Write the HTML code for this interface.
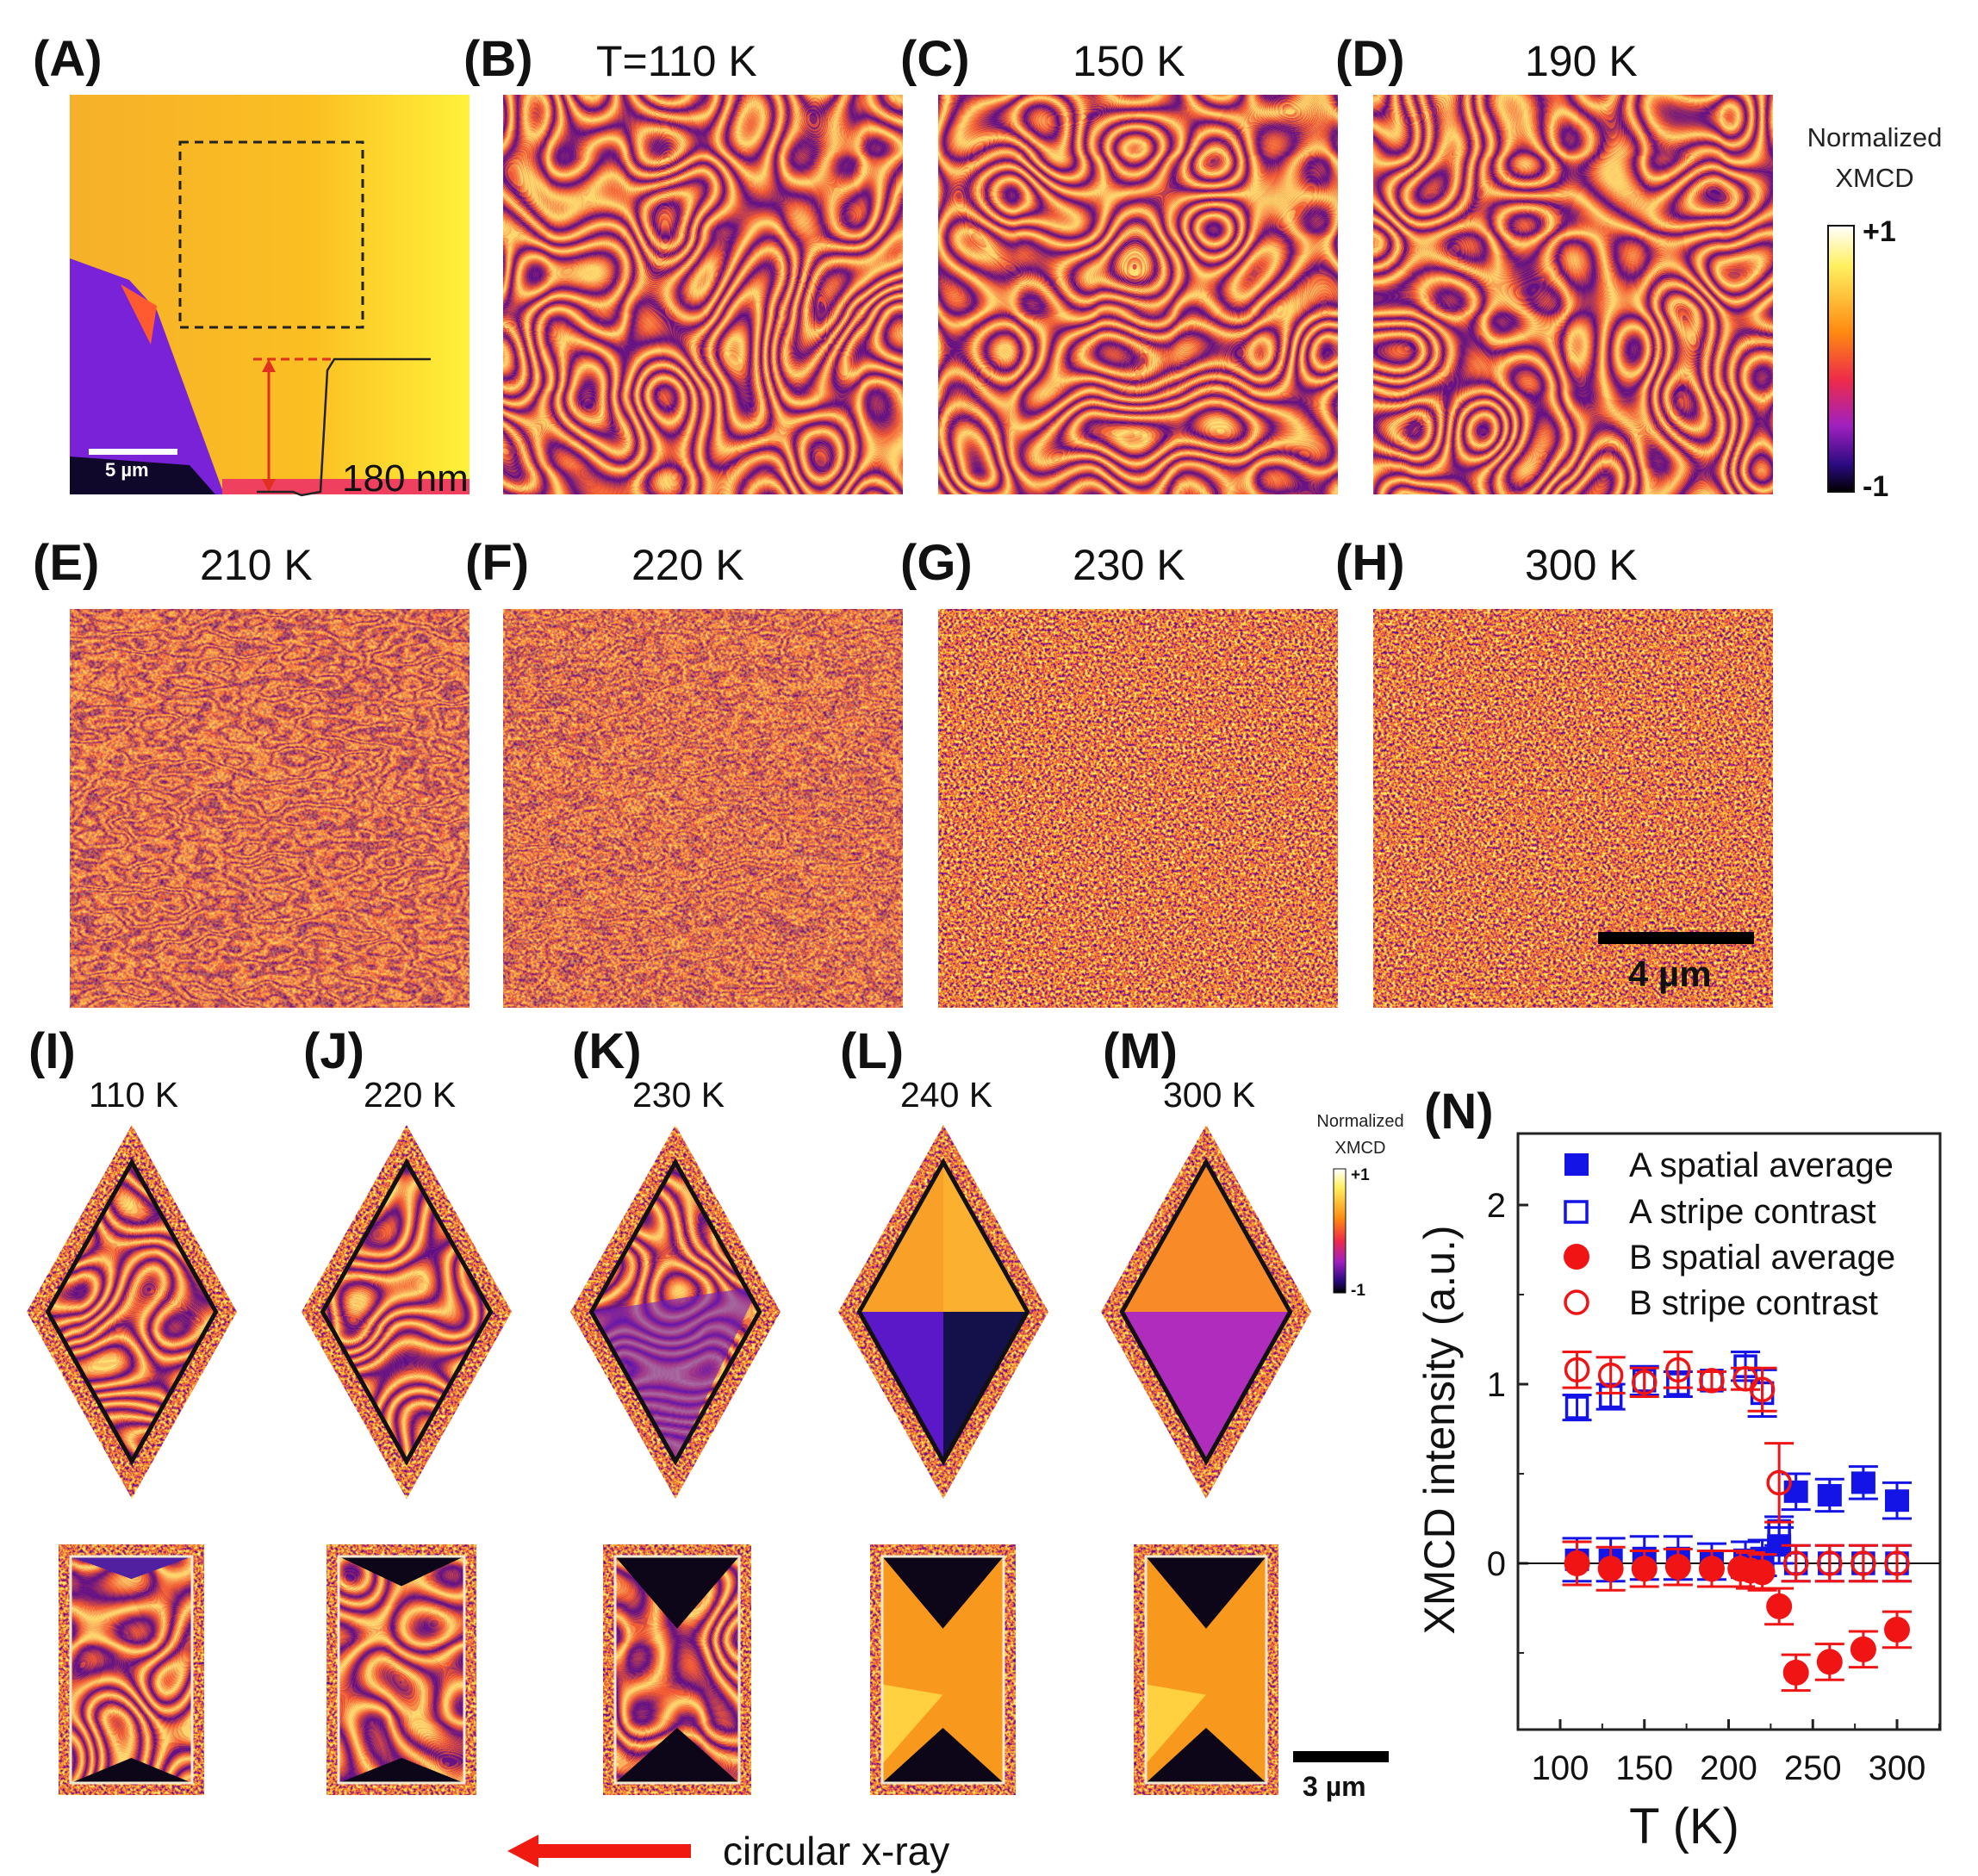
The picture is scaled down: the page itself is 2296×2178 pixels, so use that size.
<!DOCTYPE html>
<html><head><meta charset="utf-8">
<style>
html,body{margin:0;padding:0;background:#fff;}
svg{display:block;font-family:"Liberation Sans",sans-serif;}
.lab{font-weight:bold;font-size:58px;fill:#111;}
.ttl{font-size:50px;fill:#111;}
.ttl2{font-size:41px;fill:#111;}
</style></head>
<body>
<svg id="fig" width="2296" height="2178" viewBox="0 0 2296 2178" xmlns="http://www.w3.org/2000/svg">
<defs>
<filter id="stripes" x="0" y="0" width="1" height="1" color-interpolation-filters="sRGB">
 <feTurbulence type="fractalNoise" baseFrequency="0.011" numOctaves="1" seed="4"/>
 <feColorMatrix type="matrix" values="1 0 0 0 0 1 0 0 0 0 1 0 0 0 0 0 0 0 0 1"/>
 <feComponentTransfer>
  <feFuncR type="table" tableValues="0.9 0.35 0.95 1 0.95 0.35 0.95 1 0.95 0.35 0.95 1 0.95 0.35 0.95 1 0.95 0.35 0.95 1 0.95 0.35 0.95 1 0.95 0.35 0.95 1 0.95 0.35 0.95 1 0.95 0.35 0.95 1 0.95 0.35 0.95 1 0.95 0.35 0.95 1 0.95 0.35 0.95"/>
  <feFuncG type="table" tableValues="0.4 0.05 0.35 0.88 0.35 0.05 0.35 0.88 0.35 0.05 0.35 0.88 0.35 0.05 0.35 0.88 0.35 0.05 0.35 0.88 0.35 0.05 0.35 0.88 0.35 0.05 0.35 0.88 0.35 0.05 0.35 0.88 0.35 0.05 0.35 0.88 0.35 0.05 0.35 0.88 0.35 0.05 0.35 0.88 0.35 0.05 0.35"/>
  <feFuncB type="table" tableValues="0.2 0.55 0.2 0.45 0.2 0.55 0.2 0.45 0.2 0.55 0.2 0.45 0.2 0.55 0.2 0.45 0.2 0.55 0.2 0.45 0.2 0.55 0.2 0.45 0.2 0.55 0.2 0.45 0.2 0.55 0.2 0.45 0.2 0.55 0.2 0.45 0.2 0.55 0.2 0.45 0.2 0.55 0.2 0.45 0.2 0.55 0.2"/>
  <feFuncA type="table" tableValues="1 1"/>
 </feComponentTransfer>
</filter>
<filter id="noisy" x="0" y="0" width="1" height="1" color-interpolation-filters="sRGB">
 <feTurbulence type="fractalNoise" baseFrequency="0.3" numOctaves="2" seed="7"/>
 <feColorMatrix type="matrix" values="1 0 0 0 0 1 0 0 0 0 1 0 0 0 0 0 0 0 0 1"/>
 <feComponentTransfer>
  <feFuncR type="table" tableValues="0.3 0.3 0.3 0.45 0.8 0.95 1 1 1 1 1"/>
  <feFuncG type="table" tableValues="0.05 0.05 0.05 0.1 0.25 0.45 0.7 0.9 0.95 0.95 0.95"/>
  <feFuncB type="table" tableValues="0.5 0.5 0.5 0.55 0.4 0.2 0.2 0.4 0.6 0.6 0.6"/>
  <feFuncA type="table" tableValues="1 1"/>
 </feComponentTransfer>
</filter>
<filter id="mixed" x="0" y="0" width="1" height="1" color-interpolation-filters="sRGB">
 <feTurbulence type="fractalNoise" baseFrequency="0.014 0.03" numOctaves="3" seed="2"/>
 <feColorMatrix type="matrix" values="1 0 0 0 0 1 0 0 0 0 1 0 0 0 0 0 0 0 0 1"/>
 <feComponentTransfer>
  <feFuncR type="table" tableValues="0.9 0.4 0.95 1 0.95 0.4 0.95 1 0.95 0.4 0.95 1 0.95 0.4 0.95 1 0.95 0.4 0.95 1 0.95 0.4 0.95 1 0.95 0.4 0.95 1 0.95 0.4 0.95"/>
  <feFuncG type="table" tableValues="0.4 0.1 0.4 0.75 0.4 0.1 0.4 0.75 0.4 0.1 0.4 0.75 0.4 0.1 0.4 0.75 0.4 0.1 0.4 0.75 0.4 0.1 0.4 0.75 0.4 0.1 0.4 0.75 0.4 0.1 0.4"/>
  <feFuncB type="table" tableValues="0.25 0.5 0.25 0.35 0.25 0.5 0.25 0.35 0.25 0.5 0.25 0.35 0.25 0.5 0.25 0.35 0.25 0.5 0.25 0.35 0.25 0.5 0.25 0.35 0.25 0.5 0.25 0.35 0.25 0.5 0.25"/>
  <feFuncA type="table" tableValues="1 1"/>
 </feComponentTransfer>
</filter>
<linearGradient id="cbar" x1="0" y1="0" x2="0" y2="1">
 <stop offset="0" stop-color="#ffffff"/><stop offset="0.15" stop-color="#fff060"/>
 <stop offset="0.4" stop-color="#ff8a10"/><stop offset="0.58" stop-color="#ee2a4a"/>
 <stop offset="0.75" stop-color="#a020c0"/><stop offset="0.9" stop-color="#2a0a80"/>
 <stop offset="1" stop-color="#000000"/>
</linearGradient>
<linearGradient id="agrad" x1="0" y1="0" x2="1" y2="0">
 <stop offset="0" stop-color="#f6b02a"/><stop offset="0.6" stop-color="#fbbf22"/><stop offset="1" stop-color="#fff23a"/>
</linearGradient>
</defs>

<!-- Row 1 -->
<g>
 <text class="lab" x="38" y="88">(A)</text>
 <rect x="81" y="110" width="464" height="464" fill="url(#agrad)"/>
 <polygon points="81,300 150,325 182,360 260,574 81,574" fill="#7a22d8"/>
 <polygon points="140,330 182,355 175,400" fill="#ff5a30"/>
 <polygon points="81,530 220,540 250,574 81,574" fill="#10082a"/>
 <rect x="258" y="556" width="287" height="18" fill="#f04060"/>
 <rect x="209" y="165" width="212" height="215" fill="none" stroke="#222" stroke-width="3" stroke-dasharray="10,7"/>
 <line x1="294" y1="417" x2="386" y2="417" stroke="#e03020" stroke-width="3" stroke-dasharray="10,6"/>
 <line x1="312" y1="425" x2="312" y2="565" stroke="#e03020" stroke-width="3"/>
 <polygon points="312,417 304,432 320,432" fill="#e03020"/><polygon points="312,571 304,556 320,556" fill="#e03020"/>
 <polyline points="298,571 340,571 350,575 372,571 380,430 388,417 500,417" fill="none" stroke="#222" stroke-width="2.5"/>
 <text x="397" y="570" font-size="44" fill="#111">180 nm</text>
 <rect x="103" y="521" width="103" height="7" fill="#fff"/>
 <text x="122" y="553" font-size="22" font-weight="bold" fill="#fff">5 µm</text>
</g>
<g>
 <text class="lab" x="538" y="88">(B)</text><text class="ttl" x="692" y="88">T=110 K</text>
 <rect x="584" y="110" width="464" height="464" filter="url(#stripes)"/>
</g>
<g>
 <text class="lab" x="1045" y="88">(C)</text><text class="ttl" x="1245" y="88">150 K</text>
 <rect x="1089" y="110" width="464" height="464" filter="url(#stripes)"/>
</g>
<g>
 <text class="lab" x="1550" y="88">(D)</text><text class="ttl" x="1770" y="88">190 K</text>
 <rect x="1594" y="110" width="464" height="464" filter="url(#stripes)"/>
</g>
<g>
 <text x="2176" y="170" font-size="31" text-anchor="middle" fill="#222">Normalized</text>
 <text x="2176" y="217" font-size="31" text-anchor="middle" fill="#222">XMCD</text>
 <rect x="2122" y="262" width="30" height="309" fill="url(#cbar)" stroke="#111" stroke-width="2"/>
 <text x="2162" y="280" font-size="34" font-weight="bold" fill="#111">+1</text>
 <text x="2162" y="576" font-size="34" font-weight="bold" fill="#111">-1</text>
</g>

<!-- Row 2 -->
<g>
 <text class="lab" x="38" y="673">(E)</text><text class="ttl" x="232" y="673">210 K</text>
 <rect x="81" y="707" width="464" height="463" filter="url(#mixed)"/>
 <rect x="81" y="707" width="464" height="463" filter="url(#noisy)" opacity="0.4"/>
</g>
<g>
 <text class="lab" x="540" y="673">(F)</text><text class="ttl" x="733" y="673">220 K</text>
 <rect x="584" y="707" width="464" height="463" filter="url(#mixed)"/>
 <rect x="584" y="707" width="464" height="463" filter="url(#noisy)" opacity="0.55"/>
</g>
<g>
 <text class="lab" x="1045" y="673">(G)</text><text class="ttl" x="1245" y="673">230 K</text>
 <rect x="1089" y="707" width="464" height="463" filter="url(#noisy)"/>
</g>
<g>
 <text class="lab" x="1550" y="673">(H)</text><text class="ttl" x="1770" y="673">300 K</text>
 <rect x="1594" y="707" width="464" height="463" filter="url(#noisy)"/>
 <rect x="1855" y="1082" width="181" height="14" fill="#000"/>
 <text x="1890" y="1145" font-size="42" font-weight="bold" fill="#111">4 µm</text>
</g>

<!-- Row 3 -->
<g id="row3"></g>
<g>
 <text x="1579" y="1308" font-size="20" text-anchor="middle" fill="#222">Normalized</text>
 <text x="1579" y="1339" font-size="20" text-anchor="middle" fill="#222">XMCD</text>
 <rect x="1548" y="1357" width="14" height="144" fill="url(#cbar)" stroke="#111" stroke-width="1"/>
 <text x="1568" y="1370" font-size="19" font-weight="bold" fill="#111">+1</text>
 <text x="1568" y="1504" font-size="19" font-weight="bold" fill="#111">-1</text>
</g>
<g>
 <rect x="1501" y="2033" width="111" height="13" fill="#000"/>
 <text x="1512" y="2085" font-size="32" font-weight="bold" fill="#111">3 µm</text>
</g>
<g>
 <rect x="615" y="2141" width="187" height="16" fill="#f01a10"/>
 <polygon points="589,2149 625,2130 625,2168" fill="#f01a10"/>
 <text x="839" y="2165" font-size="46" fill="#111">circular x-ray</text>
</g>

<!-- Chart N -->
<g>
 <text class="lab" x="1653" y="1310">(N)</text>
 <rect x="1762" y="1316" width="490" height="692" fill="#fff" stroke="#222" stroke-width="3"/>
 <g id="axes"></g>
 <g id="marks"></g>
 <g font-size="40" fill="#111">
  <rect x="1816" y="1339" width="28" height="26" fill="#1414e6"/>
  <text x="1891" y="1366">A spatial average</text>
  <rect x="1817" y="1395" width="25" height="24" fill="none" stroke="#1414e6" stroke-width="3.5"/>
  <text x="1891" y="1420">A stripe contrast</text>
  <circle cx="1830" cy="1459" r="15" fill="#f01414"/>
  <text x="1891" y="1473">B spatial average</text>
  <circle cx="1830" cy="1512" r="13" fill="none" stroke="#f01414" stroke-width="3.5"/>
  <text x="1891" y="1526">B stripe contrast</text>
 </g>
 <text x="1955" y="2140" font-size="58" text-anchor="middle" fill="#111">T (K)</text>
 <text transform="translate(1688,1660) rotate(-90)" font-size="50" text-anchor="middle" fill="#111">XMCD intensity (a.u.)</text>
</g>
</svg>
<script>
// ---- chart data ----
const tempsAavg=[110,130,150,170,190,210,220,230,240,260,280,300];
const valsAavg=[0.02,0.02,0.03,0.03,0.01,0.02,0.03,0.1,0.4,0.38,0.45,0.35];
const errAavg=[0.12,0.12,0.12,0.12,0.1,0.1,0.1,0.1,0.1,0.09,0.09,0.1];
const tempsAstr=[110,130,150,170,190,210,220,230,240,260,280,300];
const valsAstr=[0.87,0.93,1.02,1.0,1.02,1.1,0.95,0.18,0,0,0,0];
const errAstr=[0.07,0.07,0.08,0.07,0.05,0.08,0.13,0.08,0.1,0.1,0.1,0.1];
const tempsBavg=[110,130,150,170,190,207,213,220,230,240,260,280,300];
const valsBavg=[0,-0.03,-0.03,-0.02,-0.03,-0.03,-0.04,-0.05,-0.24,-0.61,-0.55,-0.48,-0.37];
const errBavg=[0.12,0.12,0.1,0.1,0.1,0.1,0.1,0.1,0.1,0.1,0.1,0.1,0.1];
const tempsBstr=[110,130,150,170,190,210,220,230,240,260,280,300];
const valsBstr=[1.08,1.05,1.01,1.08,1.02,1.03,0.97,0.45,0,0,0,0];
const errBstr=[0.1,0.1,0.08,0.1,0.05,0.06,0.12,0.22,0.1,0.1,0.1,0.1];
const xTicks=[100,150,200,250,300];
const xMinor=[75,125,175,225,275,325];
const yTicks=[0,1,2];
const yMinor=[-0.5,0.5,1.5];

const NS='http://www.w3.org/2000/svg';
const X0=1762,X1=2252,Y0=1316,Y1=2008;
function xs(t){return 1811+(t-100)*1.955;}
function ys(v){return 1815-v*208;}
function mk(tag,attrs,parent){const e=document.createElementNS(NS,tag);for(const k in attrs)e.setAttribute(k,attrs[k]);parent.appendChild(e);return e;}

const axes=document.getElementById('axes');
xTicks.forEach(t=>{
  const l=mk('line',{x1:xs(t),x2:xs(t),y1:Y1,y2:Y1-12,stroke:'#222','stroke-width':3},axes);
  
  
  const tx=mk('text',{x:xs(t),y:Y1+58,'font-size':40,'text-anchor':'middle',fill:'#111'},axes);
  tx.textContent=t;
  
  
});
xMinor.forEach(t=>{
  const l=mk('line',{x1:xs(t),x2:xs(t),y1:Y1,y2:Y1-7,stroke:'#222','stroke-width':2},axes);
  
  
});
yTicks.forEach(v=>{
  const l=mk('line',{x1:X0,x2:X0+12,y1:ys(v),y2:ys(v),stroke:'#222','stroke-width':3},axes);
  
  
  const tx=mk('text',{x:X0-14,y:ys(v)+14,'font-size':40,'text-anchor':'end',fill:'#111'},axes);
  tx.textContent=v;
  
  
});
yMinor.forEach(v=>{
  const l=mk('line',{x1:X0,x2:X0+7,y1:ys(v),y2:ys(v),stroke:'#222','stroke-width':2},axes);
  
  
});
const zl=mk('line',{x1:X0,x2:X1,y1:ys(0),y2:ys(0),stroke:'#111','stroke-width':2},axes);



const marks=document.getElementById('marks');
function series(ts,vs,es,color,shape,filled,name){
  const g=mk('g',{},marks);
  
  
  ts.forEach((t,i)=>{
    const x=xs(t),y=ys(vs[i]),e=es[i]*208;
    const eb=mk('path',{d:`M${x},${y-e}V${y+e}M${x-17},${y-e}H${x+17}M${x-17},${y+e}H${x+17}`,stroke:color,'stroke-width':3,fill:'none'},g);
    
    
    let m;
    if(shape==='sq'){
      m=filled?mk('rect',{x:x-14,y:y-13,width:28,height:26,fill:color},g)
              :mk('rect',{x:x-12,y:y-12,width:24,height:24,fill:'none',stroke:color,'stroke-width':3.5},g);
    }else{
      m=filled?mk('circle',{cx:x,cy:y,r:15,fill:color},g)
              :mk('circle',{cx:x,cy:y,r:13,fill:'none',stroke:color,'stroke-width':3.5},g);
    }
    
    
  });
}
series(tempsAavg,valsAavg,errAavg,'#1414e6','sq',true,'series-a-spatial-average');
series(tempsAstr,valsAstr,errAstr,'#1414e6','sq',false,'series-a-stripe-contrast');
series(tempsBavg,valsBavg,errBavg,'#f01414','ci',true,'series-b-spatial-average');
series(tempsBstr,valsBstr,errBstr,'#f01414','ci',false,'series-b-stripe-contrast');

// ---- row 3 element images ----
const row3=document.getElementById('row3');
const labels=['(I)','(J)','(K)','(L)','(M)'];
const temps=['110 K','220 K','230 K','240 K','300 K'];
const cxs=[153,472,784,1095,1400];
const rects=[[68,237],[379,553],[700,872],[1010,1179],[1316,1484]];
cxs.forEach((cx,i)=>{
  const g=mk('g',{},row3);
  
  
  const lb=mk('text',{x:cx-120,y:1240,'class':'lab'},g); lb.textContent=labels[i];
  
  
  const tl=mk('text',{x:cx-50,y:1285,'class':'ttl2'},g); tl.textContent=temps[i];
  
  
  const top=1306,bot=1740,hw=122,cy=(top+bot)/2;
  const cp=mk('clipPath',{id:'dc'+i},g);
  mk('polygon',{points:`${cx},${top} ${cx+hw},${cy} ${cx},${bot} ${cx-hw},${cy}`},cp);
  const ci=mk('clipPath',{id:'di'+i},g);
  const f=0.8, it=cy-(cy-top)*f, ib=cy+(bot-cy)*f, ihw=hw*f;
  mk('polygon',{points:`${cx},${it} ${cx+ihw},${cy} ${cx},${ib} ${cx-ihw},${cy}`},ci);
  const dg=mk('g',{'clip-path':`url(#dc${i})`},g);
  
  
  mk('rect',{x:cx-hw,y:top,width:2*hw,height:bot-top,filter:'url(#noisy)'},dg);
  const ig=mk('g',{'clip-path':`url(#di${i})`},dg);
  if(i<3){
    mk('rect',{x:cx-hw,y:top,width:2*hw,height:bot-top,filter:'url(#stripes)'},ig);
    if(i===2) mk('polygon',{points:`${cx-ihw},${cy} ${cx+ihw},${cy-30} ${cx},${ib}`,fill:'#6a1cc0',opacity:0.6},ig);
  } else if(i===3){
    mk('rect',{x:cx-hw,y:top,width:2*hw,height:cy-top,fill:'#f8a028'},ig);
    mk('polygon',{points:`${cx},${it} ${cx+ihw},${cy} ${cx},${cy}`,fill:'#fbb030'},ig);
    mk('rect',{x:cx-hw,y:cy,width:hw,height:bot-cy,fill:'#5a18c8'},ig);
    mk('rect',{x:cx,y:cy,width:hw,height:bot-cy,fill:'#14104a'},ig);
  } else {
    mk('rect',{x:cx-hw,y:top,width:2*hw,height:cy-top,fill:'#f88a28'},ig);
    mk('rect',{x:cx-hw,y:cy,width:2*hw,height:bot-cy,fill:'#c030b8'},ig);
    mk('polygon',{points:`${cx-ihw},${cy} ${cx},${ib} ${cx+ihw},${cy}`,fill:'#a028c0',opacity:0.5},ig);
  }
  mk('polygon',{points:`${cx},${it} ${cx+ihw},${cy} ${cx},${ib} ${cx-ihw},${cy}`,fill:'none',stroke:'#111','stroke-width':5},dg);
  const [rx0,rx1]=rects[i], ry0=1793, ry1=2084, w=rx1-rx0, h=ry1-ry0;
  const rc=mk('clipPath',{id:'rc'+i},g);
  mk('rect',{x:rx0+14,y:ry0+14,width:w-28,height:h-28},rc);
  const rg=mk('g',{},g);
  
  
  mk('rect',{x:rx0,y:ry0,width:w,height:h,filter:'url(#noisy)'},rg);
  const rig=mk('g',{'clip-path':`url(#rc${i})`},rg);
  if(i<3){
    mk('rect',{x:rx0,y:ry0,width:w,height:h,filter:'url(#stripes)'},rig);
  } else {
    mk('rect',{x:rx0,y:ry0,width:w,height:h,fill:'#f8981c'},rig);
    mk('polygon',{points:`${rx0},${ry0+h*0.55} ${rx0+w*0.5},${ry0+h*0.6} ${rx0},${ry1-20}`,fill:'#ffd040'},rig);
  }
  const tri=i===0?0.2:(i===1?0.3:0.6);
  mk('polygon',{points:`${rx0+14},${ry0+14} ${rx1-14},${ry0+14} ${rx0+w/2},${ry0+14+h*0.28*tri+ (i>=2?h*0.12:10)}`,fill:i===0?'#5020a0':'#0c0618'},rig);
  mk('polygon',{points:`${rx0+14},${ry1-14} ${rx1-14},${ry1-14} ${rx0+w/2},${ry1-14-(i>=2?h*0.22:h*0.1)}`,fill:'#0c0618'},rig);
  mk('rect',{x:rx0+14,y:ry0+14,width:w-28,height:h-28,fill:'none',stroke:'#f0e8d0','stroke-width':3},rg);
});
</script>
</body></html>
